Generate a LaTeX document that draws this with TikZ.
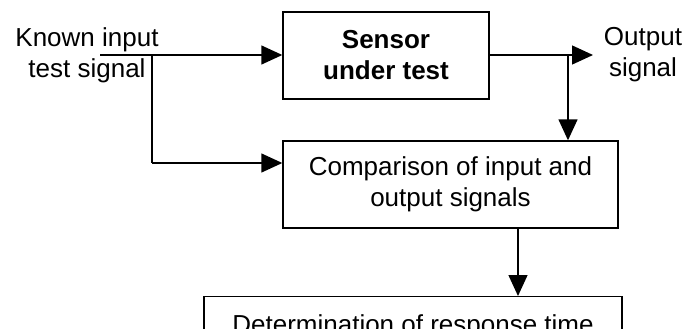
\documentclass[tikz,border=0pt]{standalone}
\usepackage{fontspec}
\setmainfont{Liberation Sans}
\usetikzlibrary{arrows.meta, positioning, calc}
\tikzset{
    % rectangular process block
    block/.style={draw, line width=1.4pt, align=center, inner sep=0pt,
        font=\fontsize{26}{31}\selectfont},
    % free text beside the wires
    tag/.style={align=center, inner sep=0pt, font=\fontsize{26}{31}\selectfont},
    % directed edges
    edge/.style={-{Triangle[length=21pt, width=19pt]}, line width=1.4pt},
    wire/.style={line width=1.4pt},
}

\begin{document}
\begin{tikzpicture}[x=1pt, y=-1pt]
    \useasboundingbox (0,0) rectangle (688,329);

    % ---- blocks ----
    \node[block, minimum width=206pt, minimum height=87pt] (sensor) at (386,55.5)
        {\bfseries Sensor\\\bfseries under test};
    \node[block, minimum width=335pt, minimum height=87pt] (compare) at (450.5,184.5)
        {Comparison of input and\\output signals};
    \node[block, anchor=north, minimum width=418pt, inner ysep=18pt] (determine)
        at (413,296) {Determination of response time};

    % ---- signal labels ----
    \node[tag] (insig) at (87,55) {Known input\\test signal};
    \node[tag] (outsig) at (643,55) {Output\\signal};

    % ---- wiring ----
    \coordinate (instart) at (100,55);
    \coordinate (split1) at (152,55);
    \coordinate (tap) at (152,163);
    \coordinate (split2) at (568,55);
    \coordinate (outend) at (593,55);
    \coordinate (down) at (518,0);

    \draw[edge] (instart) -- (sensor.west |- instart);
    \draw[wire] (split1) -- (tap);
    \draw[edge] (tap) -- (tap -| compare.west);

    \draw[edge] (sensor.east |- outend) -- (outend);
    \draw[edge] (split2) -- (split2 |- compare.north);

    \draw[edge] (down |- compare.south) -- (down |- determine.north);

\end{tikzpicture}
\end{document}
